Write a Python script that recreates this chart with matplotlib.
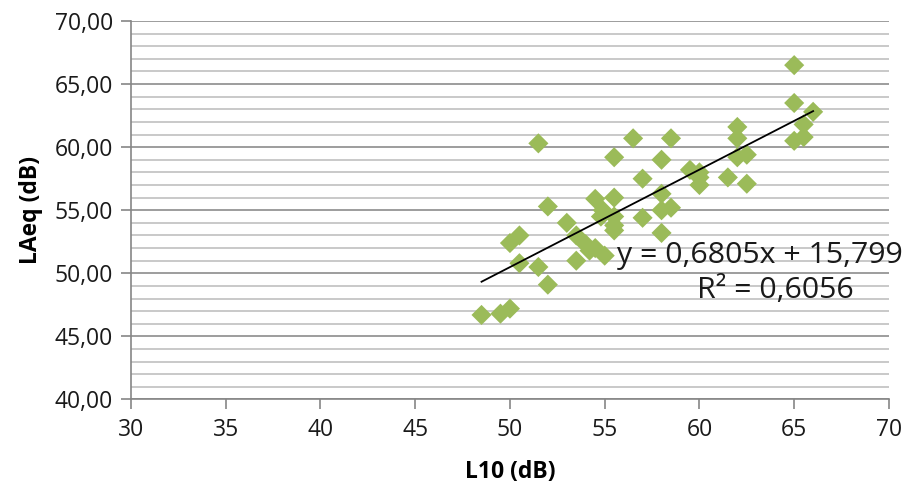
import numpy as np
import matplotlib
matplotlib.use("Agg")
import matplotlib.pyplot as plt
from matplotlib.ticker import MultipleLocator, FuncFormatter

plt.rcParams['font.family'] = ['Open Sans', 'DejaVu Sans']

l10 = [48.5, 49.5, 50.0, 50.0, 50.5, 50.5, 51.5, 51.5, 52.0, 52.0,
       53.0, 53.5, 53.5, 54.0, 54.2, 54.5, 54.9, 55.0, 55.5, 55.5,
       55.5, 55.5, 54.8, 55.5, 56.5, 57.0, 57.0, 58.0, 58.0, 58.0,
       58.5, 58.0, 58.5, 59.5, 60.0, 60.0, 60.0, 61.5, 62.0, 62.0,
       62.0, 62.5, 62.5, 65.0, 65.0, 66.0, 65.5, 65.0, 65.5, 54.5]
laeq = [46.7, 46.8, 47.2, 52.4, 53.0, 50.8, 50.5, 60.3, 49.1, 55.3,
        54.0, 53.0, 51.0, 52.3, 51.8, 55.9, 55.0, 51.4, 56.0, 54.5,
        53.8, 53.4, 54.5, 59.2, 60.7, 57.5, 54.4, 59.0, 56.3, 55.0,
        55.2, 53.2, 60.7, 58.2, 58.0, 57.6, 57.0, 57.6, 61.6, 60.7,
        59.2, 59.4, 57.1, 66.5, 63.5, 62.8, 61.8, 60.5, 60.8, 52.0]

# trendline label as printed on the chart
slope = 0.6805
intercept = 15.799
r2 = 0.6056

fig = plt.figure(figsize=(9.12, 4.88), dpi=100)
ax = fig.add_axes([0.1436, 0.1814, 0.8311, 0.7756])

ax.set_xlim(30, 70)
ax.set_ylim(40, 70)
ax.yaxis.set_major_locator(MultipleLocator(5))
ax.yaxis.set_minor_locator(MultipleLocator(1))
ax.xaxis.set_major_locator(MultipleLocator(5))
ax.yaxis.set_major_formatter(FuncFormatter(lambda v, p: f"{v:.2f}".replace('.', ',')))

ax.grid(axis='y', which='major', color='#8c8c8c', linewidth=1.2, zorder=0)
ax.grid(axis='y', which='minor', color='#c0c0c0', linewidth=1.2, zorder=0)
ax.set_axisbelow(True)

for s in ['top', 'right']:
    ax.spines[s].set_visible(False)
for s in ['left', 'bottom']:
    ax.spines[s].set_color('#868686')
    ax.spines[s].set_linewidth(1.2)

ax.tick_params(axis='both', which='major', direction='out', length=7, width=1.2,
               color='#868686', labelsize=16.5, labelcolor='#1a1a1a', pad=6)
ax.tick_params(axis='y', which='minor', length=0)

ax.scatter(l10, laeq, marker='D', s=105, color='#9bbb59', edgecolors='none', zorder=3)

# linear fit of the plotted points
fit = np.polyfit(l10, laeq, 1)
xs = np.array([min(l10), max(l10)])
ax.plot(xs, np.polyval(fit, xs), color='black', linewidth=1.3, zorder=4)

eq = f"y = {slope:.4f}x + {intercept:.3f}".replace('.', ',')
fig.text(760 / 912, 1 - 255 / 488, eq, fontsize=21.8, ha='center', va='center', color='#1a1a1a')
fig.text(775 / 912, 1 - 290 / 488, f"R² = {r2:.4f}".replace('.', ','),
         fontsize=21.8, ha='center', va='center', color='#1a1a1a')

ax.set_xlabel("L10 (dB)", fontsize=16.5, fontweight='bold', labelpad=13)
ax.set_ylabel("LAeq (dB)", fontsize=16.5, fontweight='bold', labelpad=8)

fig.savefig("out.png", dpi=100)
